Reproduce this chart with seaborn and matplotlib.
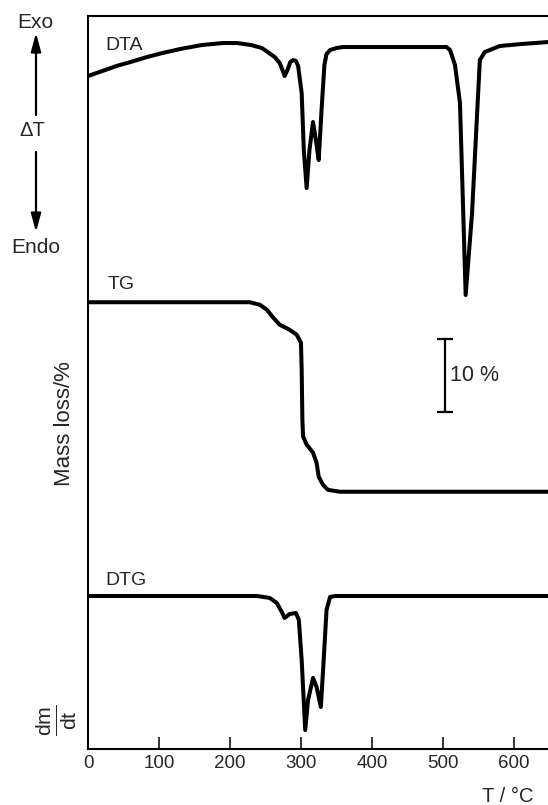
import numpy as np
import pandas as pd
import seaborn as sns
import matplotlib.pyplot as plt

# DTA: temperature (°C) and deflection from baseline (arbitrary, negative = endo)
dta_t = [0, 20, 40, 60, 83, 105, 130, 160, 190, 210, 230, 245, 255, 263, 270, 274, 277,
         281, 285, 289, 293, 296, 301, 304, 308, 312, 317, 321, 325, 329, 333, 336, 341,
         350, 359, 505, 510, 517, 524, 532, 541, 552, 559, 580, 610, 648]
dta_v = [-3.97, -3.29, -2.60, -2.05, -1.37, -0.82, -0.27, 0.27, 0.55, 0.55, 0.27, -0.14,
         -0.82, -1.37, -2.19, -3.15, -3.97, -3.15, -2.05, -1.78, -1.92, -2.60, -6.30,
         -14.11, -19.32, -14.11, -10.27, -12.74, -15.48, -8.63, -2.47, -0.96, -0.41,
         -0.14, 0.0, 0.0, -0.41, -2.47, -7.67, -33.97, -22.74, -1.78, -0.68, 0.14, 0.41, 0.68]

# TG: mass loss in %
tg_t = [0, 228, 242, 252, 261, 270, 284, 294, 300, 301, 302, 303, 308, 317, 322, 325,
        331, 338, 355, 648]
tg_loss = [0, 0, 0.34, 1.03, 2.12, 3.08, 3.77, 4.45, 5.55, 9.25, 16.1, 18.4, 19.5, 20.6,
           22.0, 23.9, 25.0, 25.7, 25.96, 25.96]

# DTG: dm/dt deflection from baseline (arbitrary)
dtg_t = [0, 238, 256, 266, 273, 277, 284, 293, 297, 301, 306, 310, 317, 322, 328, 332,
         336, 341, 348, 648]
dtg_v = [0, 0, -0.27, -0.96, -2.19, -3.01, -2.47, -2.33, -3.29, -8.77, -18.36, -14.25,
         -11.23, -12.47, -15.21, -8.77, -1.92, -0.14, 0, 0]

x_ticks = [0, 100, 200, 300, 400, 500, 600]
scale_bar = 10  # % mass loss

# vertical placement of the three traces (in % units)
DTA_BASE = 96.16
TG_TOP = 61.2
DTG_BASE = 20.96

sns.set_style('ticks')
plt.rcParams['font.family'] = ['Liberation Sans', 'DejaVu Sans']
plt.rcParams['mathtext.fontset'] = 'custom'
plt.rcParams['mathtext.rm'] = 'Liberation Sans'
plt.rcParams['mathtext.it'] = 'Liberation Sans'

fig = plt.figure(figsize=(5.48, 8.05), dpi=100)
ax = fig.add_axes([88 / 548, 56 / 805, 460 / 548, 733 / 805])

dta = pd.DataFrame({'T': dta_t, 'y': np.array(dta_v) + DTA_BASE})
tg = pd.DataFrame({'T': tg_t, 'y': TG_TOP - np.array(tg_loss)})
dtg = pd.DataFrame({'T': dtg_t, 'y': np.array(dtg_v) + DTG_BASE})

for df in (dta, tg, dtg):
    sns.lineplot(data=df, x='T', y='y', color='black', lw=2.9, sort=False,
                 estimator=None, ax=ax, solid_joinstyle='round', solid_capstyle='round')

ax.text(24, DTA_BASE + 0.2, 'DTA', fontsize=14, ha='left', va='center')
ax.text(27, TG_TOP + 2.4, 'TG', fontsize=14, ha='left', va='center')
ax.text(24, DTG_BASE + 2.1, 'DTG', fontsize=14, ha='left', va='center')

# 10 % scale bar
ax.errorbar([503], [51.16], yerr=scale_bar / 2, color='black', elinewidth=1.6,
            capsize=5.5, capthick=1.6, fmt='none')
ax.text(510, 51.16, '10 %', fontsize=15.5, ha='left', va='center')

ax.set_xlim(0, 648)
ax.set_ylim(0, 733 / 7.3)
ax.set_xticks(x_ticks)
ax.set_yticks([])
ax.set_ylabel('')
ax.set_xlabel('T / °C', fontsize=14.5)
ax.xaxis.set_label_coords(0.913, -0.052)
ax.tick_params(axis='x', direction='in', length=9, width=1.3, labelsize=13.5, pad=4)
for s in ('left', 'top', 'bottom'):
    ax.spines[s].set_linewidth(1.5)
    ax.spines[s].set_color('black')
ax.spines['right'].set_visible(False)

def fx(px):
    return px / 548

def fy(py):
    return 1 - py / 805

fig.text(fx(35), fy(22), 'Exo', fontsize=15, ha='center', va='center')
fig.text(fx(32), fy(130), 'ΔT', fontsize=14.5, ha='center', va='center')
fig.text(fx(36), fy(247), 'Endo', fontsize=15, ha='center', va='center')
arrow = dict(arrowstyle='-|>,head_length=1.1,head_width=0.3', lw=1.6, color='black',
             shrinkA=0, shrinkB=0, mutation_scale=10)
fig.add_artist(plt.matplotlib.patches.FancyArrowPatch(
    (fx(36), fy(115)), (fx(36), fy(33)), transform=fig.transFigure, **arrow))
fig.add_artist(plt.matplotlib.patches.FancyArrowPatch(
    (fx(36), fy(152)), (fx(36), fy(232)), transform=fig.transFigure, **arrow))

fig.text(fx(64), fy(424), 'Mass loss/%', fontsize=16, rotation=90, ha='center', va='center')
fig.text(fx(56), fy(720), r'$\frac{\mathrm{dm}}{\mathrm{dt}}$', fontsize=22, rotation=90,
         ha='center', va='center')

fig.savefig('out.png', dpi=100)
